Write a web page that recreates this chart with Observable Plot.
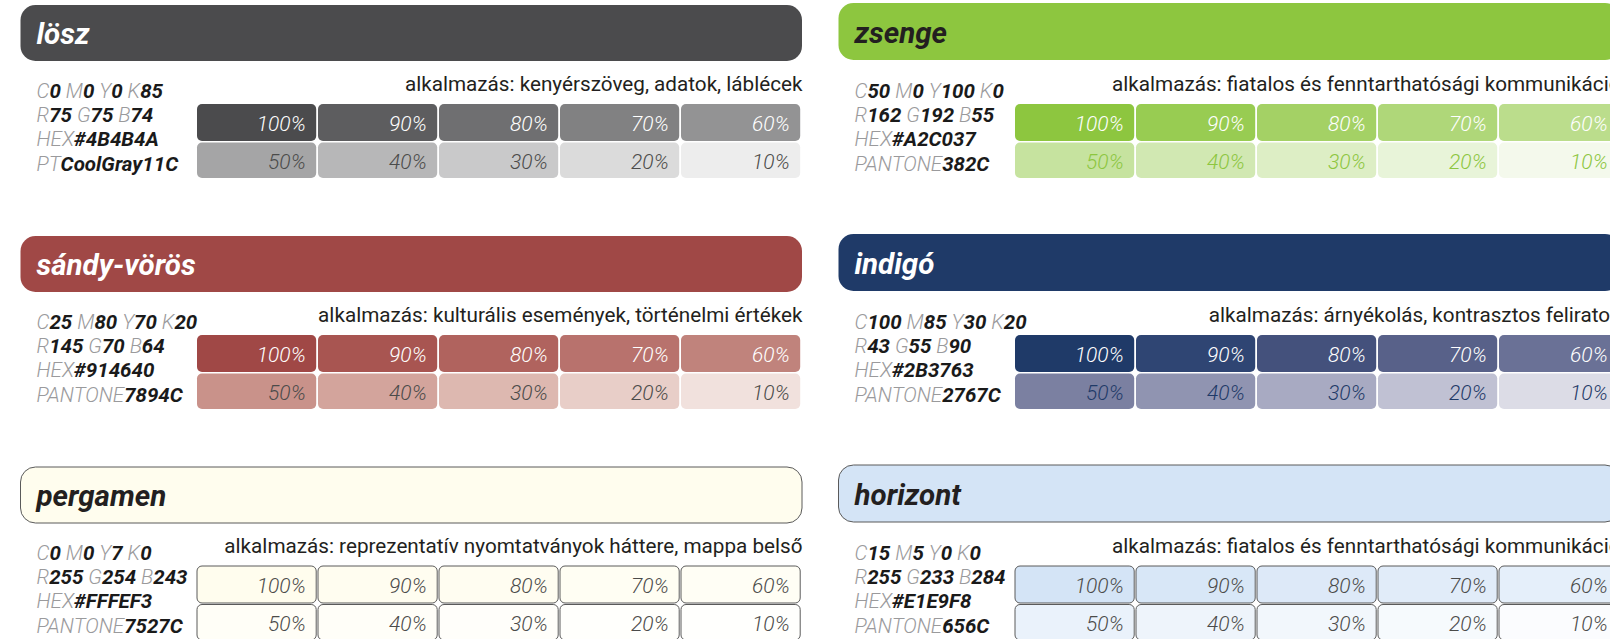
<!DOCTYPE html>
<html><head><meta charset="utf-8">
<script src="https://cdn.jsdelivr.net/npm/d3@7"></script>
<script src="https://cdn.jsdelivr.net/npm/@observablehq/plot@0.6"></script>
<style>
html,body{margin:0;padding:0;background:#fff;}
#chart{width:1610px;height:639px;overflow:hidden;}
#chart svg{max-width:none !important;}
</style></head><body><div id="chart"></div>
<script>
// ---- data ----
const names = ["lösz", "zsenge", "sándy-vörös", "indigó", "pergamen", "horizont"];
const cmykC = ["0", "50", "25", "100", "0", "15"];
const cmykM = ["0", "0", "80", "85", "0", "5"];
const cmykY = ["0", "100", "70", "30", "7", "0"];
const cmykK = ["85", "0", "20", "20", "0", "0"];
const rgbR = ["75", "162", "145", "43", "255", "255"];
const rgbG = ["75", "192", "70", "55", "254", "233"];
const rgbB = ["74", "55", "64", "90", "243", "284"];
const hexCodes = ["#4B4B4A", "#A2C037", "#914640", "#2B3763", "#FFFEF3", "#E1E9F8"];
const pantoneLabels = ["PT", "PANTONE", "PANTONE", "PANTONE", "PANTONE", "PANTONE"];
const pantoneCodes = ["CoolGray11C", "382C", "7894C", "2767C", "7527C", "656C"];
const usages = [
  "kenyérszöveg, adatok, láblécek",
  "fiatalos és fenntarthatósági kommunikáció",
  "kulturális események, történelmi értékek",
  "árnyékolás, kontrasztos feliratok",
  "reprezentatív nyomtatványok háttere, mappa belső",
  "fiatalos és fenntarthatósági kommunikáció"
];
const tints = [100, 90, 80, 70, 60, 50, 40, 30, 20, 10];

// ---- styles ----
const baseColors = ["#4B4B4D", "#8DC63F", "#A04846", "#1F3A68", "#FFFDEE", "#D4E4F6"];
// printed tint swatches (where they differ from a plain mix with white)
const tintOverrides = {
  2: ["#A04846", "#A85551", "#B0635E", "#B8726D", "#C0837C", "#C9928A", "#D3A49C", "#DDB8B0", "#E8CEC8", "#F1E1DD"],
  3: ["#1F3A68", "#2F4573", "#44517C", "#586189", "#6A7196", "#7B80A1", "#9094B1", "#A8AAC2", "#C0C1D3", "#DCDCE6"]
};
const titleColors = ["#ffffff", "#231F20", "#ffffff", "#ffffff", "#231F20", "#231F20"];
const row1Text = ["#ffffff", "#ffffff", "#ffffff", "#ffffff", "#4B4B4A", "#4B4B4A"];
const row2Text = ["#4B4B4A", "#8DC63F", "#4B4B4A", "#1F3A68", "#4B4B4A", "#4B4B4A"];
const outlined = [false, false, false, false, true, true];
const FONT = "Roboto, 'Liberation Sans', sans-serif";

// ---- layout ----
const W = 1640, H = 639;
const colStep = 818, rowStep = 231;
const ox = i => (i % 2) * colStep;
const oy = i => Math.floor(i / 2) * rowStep;
const headX1 = 20.5, headX2 = 802, headY1 = 5, headY2 = 61;
const swX0 = 197, swStep = 121, swW = 119.2;
const rowY = [[104, 141], [142.5, 178]];
const infoBase = [97, 121, 145, 170];

const panels = names.map((n, i) => ({i, name: n}));
const cells = [];
panels.forEach(p => tints.forEach((t, k) => {
  const c = k % 5, r = Math.floor(k / 5);
  const ov = tintOverrides[p.i];
  cells.push({i: p.i, t, c, r,
    fill: ov ? ov[k] : d3.interpolateRgb("#ffffff", baseColors[p.i])(t / 100),
    tc: r === 0 ? row1Text[p.i] : row2Text[p.i]});
}));

// info segments measured with canvas
const ctx = document.createElement("canvas").getContext("2d");
const infoSize = 20.5;
const lightFont = `italic 300 ${infoSize}px ${FONT}`;
const boldFont = `italic 700 ${infoSize}px ${FONT}`;
const mw = (s, f) => { ctx.font = f; return ctx.measureText(s).width; };
const segs = [];
panels.forEach(p => {
  const i = p.i;
  const lines = [
    [["C", cmykC[i]], ["M", cmykM[i]], ["Y", cmykY[i]], ["K", cmykK[i]]],
    [["R", rgbR[i]], ["G", rgbG[i]], ["B", rgbB[i]]],
    [["HEX", hexCodes[i]]],
    [[pantoneLabels[i], pantoneCodes[i]]]
  ];
  lines.forEach((pairs, li) => {
    let off = 0;
    pairs.forEach(([lab, val], pi) => {
      if (pi > 0) off += mw(" ", lightFont);
      segs.push({i, li, off, text: lab, kind: "l"});
      off += mw(lab, lightFont);
      segs.push({i, li, off, text: val, kind: "v"});
      off += mw(val, boldFont);
    });
  });
});

const chart = Plot.plot({
  width: W, height: H,
  margin: 0,
  style: {maxWidth: "none", overflow: "hidden"},
  x: {domain: [0, W], range: [0, W], axis: null},
  y: {domain: [0, H], range: [0, H], axis: null},
  marks: [
    Plot.rect(panels, {
      x1: d => ox(d.i) + headX1, x2: d => ox(d.i) + headX2,
      y1: d => oy(d.i) + headY1 - (d.i % 2 ? 2 : 0), y2: d => oy(d.i) + headY2 - (d.i % 2 ? 1 : 0),
      fill: d => baseColors[d.i],
      stroke: d => outlined[d.i] ? "#5a5a5a" : "none",
      strokeWidth: 1, rx: 15
    }),
    Plot.text(panels, {
      x: d => ox(d.i) + 36, y: d => oy(d.i) + 43 - (d.i % 2 ? 1 : 0),
      text: "name", fill: d => titleColors[d.i],
      fontSize: 29.5, fontWeight: "bold", fontStyle: "italic", fontFamily: FONT,
      textAnchor: "start", lineAnchor: "bottom"
    }),
    Plot.text(panels, {
      x: d => ox(d.i) + headX2, y: d => oy(d.i) + 90,
      text: d => "alkalmazás: " + usages[d.i], fill: "#231F20",
      fontSize: 20.7, fontFamily: FONT, textAnchor: "end", lineAnchor: "bottom"
    }),
    Plot.rect(cells, {
      x1: d => ox(d.i) + swX0 + d.c * swStep, x2: d => ox(d.i) + swX0 + d.c * swStep + swW,
      y1: d => oy(d.i) + rowY[d.r][0], y2: d => oy(d.i) + rowY[d.r][1],
      fill: "fill",
      stroke: d => outlined[d.i] ? "#5a5a5a" : "none", strokeWidth: 1, rx: 5
    }),
    Plot.text(cells, {
      x: d => ox(d.i) + swX0 + d.c * swStep + swW - 11,
      y: d => oy(d.i) + (rowY[d.r][0] + rowY[d.r][1]) / 2 + 8,
      text: d => d.t + "%", fill: "tc",
      fontSize: 21, fontWeight: 300, fontStyle: "italic", fontFamily: FONT,
      textAnchor: "end", lineAnchor: "bottom"
    }),
    Plot.text(segs.filter(s => s.kind === "l"), {
      x: d => ox(d.i) + 36 + d.off, y: d => oy(d.i) + infoBase[d.li],
      text: "text", fill: "#9a9a9c",
      fontSize: infoSize, fontWeight: 300, fontStyle: "italic", fontFamily: FONT,
      textAnchor: "start", lineAnchor: "bottom"
    }),
    Plot.text(segs.filter(s => s.kind === "v"), {
      x: d => ox(d.i) + 36 + d.off, y: d => oy(d.i) + infoBase[d.li],
      text: "text", fill: "#1a1a1a",
      fontSize: infoSize, fontWeight: 700, fontStyle: "italic", fontFamily: FONT,
      textAnchor: "start", lineAnchor: "bottom"
    })
  ]
});
document.getElementById("chart").appendChild(chart);
</script></body></html>
